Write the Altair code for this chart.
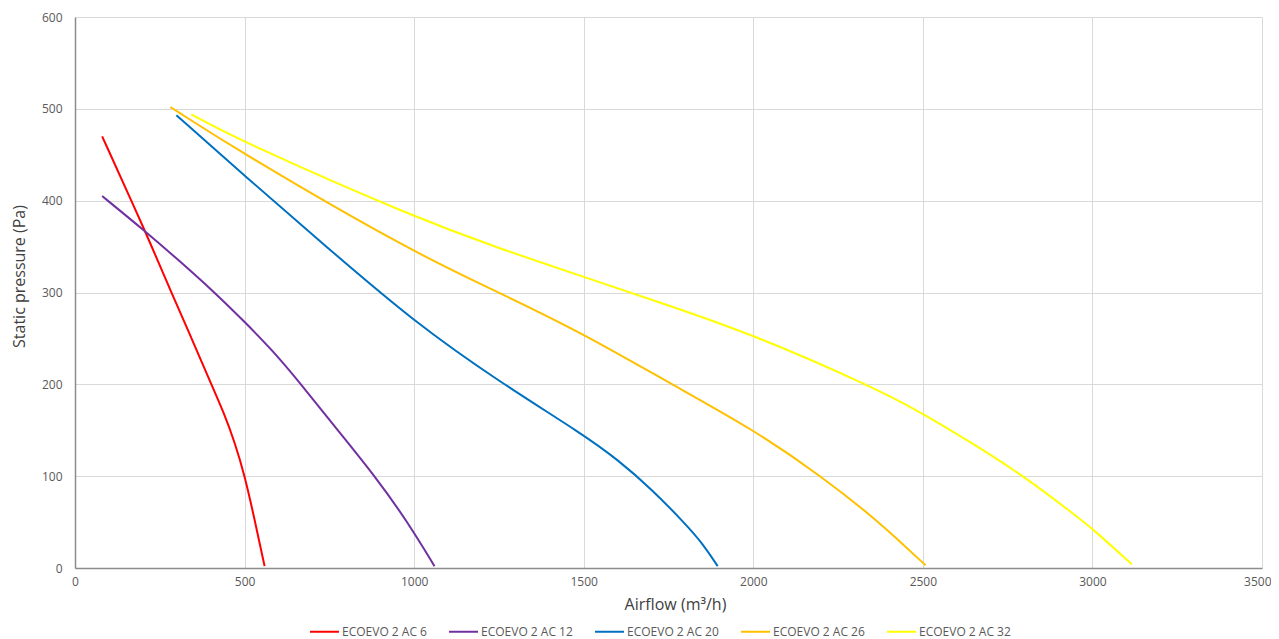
import altair as alt
import pandas as pd

series = ["ECOEVO 2 AC 6", "ECOEVO 2 AC 12", "ECOEVO 2 AC 20", "ECOEVO 2 AC 26", "ECOEVO 2 AC 32"]
colors = ["#FF0000", "#7030A0", "#0070C0", "#FFC000", "#FFFF00"]

ac6_x = [80, 206, 285, 344, 402, 440, 470, 501, 530, 559]
ac6_y = [470, 368, 299, 250, 200, 168, 138, 100, 52, 2]

ac12_x = [80, 206, 300, 412, 500, 580, 667, 766, 885, 981, 1060]
ac12_y = [405, 367, 337, 300, 268, 238, 200, 154, 100, 50, 2]

ac20_x = [299, 500, 750, 1000, 1250, 1500, 1600, 1700, 1800, 1850, 1895]
ac20_y = [493, 427, 347, 268, 203, 145, 118, 86, 48, 27, 2]

ac26_x = [281, 500, 1000, 1251, 1500, 1750, 2000, 2204, 2351, 2429, 2508]
ac26_y = [502, 450, 343, 300, 255, 202, 151, 99, 56, 30, 3]

ac32_x = [343, 500, 1000, 1251, 1500, 1750, 2000, 2341, 2498, 2645, 2802, 2940, 3000, 3116]
ac32_y = [494, 463, 382, 348, 317, 286, 254, 199, 169, 136, 99, 60, 43, 4]

xs = [ac6_x, ac12_x, ac20_x, ac26_x, ac32_x]
ys = [ac6_y, ac12_y, ac20_y, ac26_y, ac32_y]

rows = []
for name, sx, sy in zip(series, xs, ys):
    for i, (a, b) in enumerate(zip(sx, sy)):
        rows.append({"series": name, "airflow": a, "pressure": b, "order": i})
df = pd.DataFrame(rows)

font = "Open Sans"

chart = alt.Chart(df).mark_line(strokeWidth=2, interpolate="basis").encode(
    x=alt.X("airflow:Q",
            scale=alt.Scale(domain=[0, 3500], nice=False),
            axis=alt.Axis(title="Airflow (m³/h)", values=list(range(0, 3501, 500)),
                          format="d", grid=True, ticks=False, tickSize=0,
                          labelPadding=8, titlePadding=9, titleX=600,
                          labelAlign=alt.condition("datum.value == 3500", alt.value("right"), alt.value("center")),
                          labelOffset=alt.condition("datum.value == 3500", alt.value(9), alt.value(0)))),
    y=alt.Y("pressure:Q",
            scale=alt.Scale(domain=[0, 600], nice=False),
            axis=alt.Axis(title="Static pressure (Pa)", values=list(range(0, 601, 100)),
                          format="d", grid=True, ticks=False, tickSize=0,
                          labelPadding=13, titlePadding=14, titleY=259)),
    color=alt.Color("series:N",
                    scale=alt.Scale(domain=series, range=colors),
                    sort=series,
                    legend=alt.Legend(title=None, orient="none", direction="horizontal",
                                      legendX=234, legendY=599,
                                      symbolType="stroke", symbolSize=841,
                                      symbolStrokeWidth=2, labelOffset=2,
                                      columnPadding=18, labelFontSize=12,
                                      labelFont=font, labelColor="#595959",
                                      padding=0)),
    detail="series:N",
    order="order:Q",
).properties(
    width=1187,
    height=551,
    autosize=alt.AutoSizeParams(type="none"),
    padding={"left": 67, "top": 9, "right": 9, "bottom": 80},
).configure_view(
    stroke=None
).configure_axis(
    labelFont=font,
    labelFontSize=12,
    labelColor="#595959",
    titleFont=font,
    titleFontSize=16,
    titleFontWeight="normal",
    titleColor="#404040",
    gridColor="#d9d9d9",
    gridWidth=1,
    domainColor="#8c8c8c",
    domainWidth=1.5,
)

chart.save("out.html", embed_options={"renderer": "svg", "actions": False})
